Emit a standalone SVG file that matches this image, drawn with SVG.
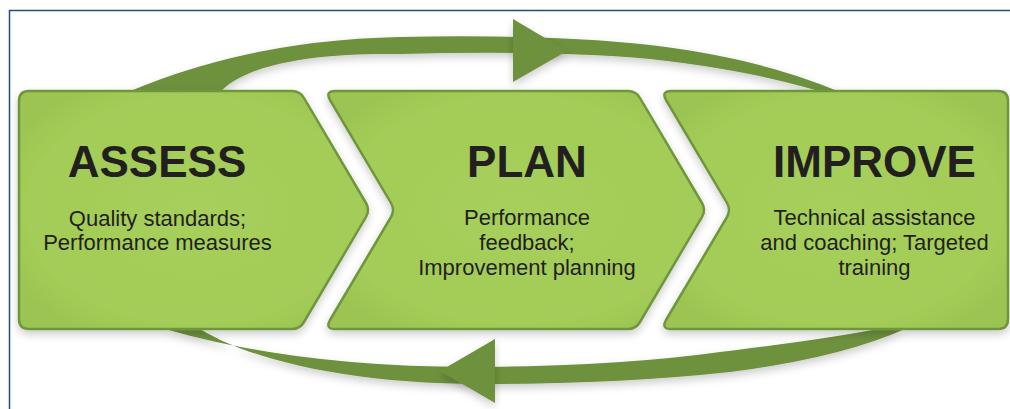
<svg xmlns="http://www.w3.org/2000/svg" width="1010" height="409" viewBox="0 0 1010 409">
  <style>
    .chev { fill: url(#chevFill); stroke: #6e963c; stroke-width: 2.5; stroke-linejoin: round; filter: url(#shadow); }
    .band { fill: #6d913c; filter: url(#shadow); }
    .title { font-family: "Liberation Sans", Arial, sans-serif; font-weight: bold; font-size: 44px; fill: #231f20; text-anchor: middle; }
    .sub { font-family: "Liberation Sans", Arial, sans-serif; font-size: 22px; fill: #231f20; text-anchor: middle; }
    .frame { fill: none; stroke: #1f4e7a; stroke-width: 1.5; }
  </style>
  <defs>
    <radialGradient id="chevFill" cx="50%" cy="50%" r="60%">
      <stop offset="0" stop-color="#a6cf5b"/>
      <stop offset="0.8" stop-color="#a3cc58"/>
      <stop offset="1" stop-color="#9cc452"/>
    </radialGradient>
    <filter id="shadow" x="-10%" y="-20%" width="120%" height="150%">
      <feDropShadow dx="0" dy="4" stdDeviation="4" flood-color="#000" flood-opacity="0.2"/>
    </filter>
  </defs>
  <rect width="1010" height="409" fill="#ffffff"/>
  <path class="frame" d="M 9.5 409 L 9.5 10.5 L 1010 10.5"/>

  <g id="connectors">
    <path class="band" d="M 128 92 Q 250 40 400 37 Q 550 34 650 45 Q 760 58 840 92 L 822 92 Q 750 70 650 59 Q 550 50 400 54 C 330 53 250 60 220 92 Z"/>
    <polygon class="band" points="513,19 567,51 513,82"/>
    <path class="band" d="M 165 329 Q 300 368 480 367 Q 620 366 720 352 Q 820 340 878 329 L 905 329 Q 840 358 730 372 Q 620 384 480 384 C 350 384 250 360 200 329 Z"/>
    <polygon class="band" points="495,339 440,371 495,403"/>
  </g>

  <g id="node-assess">
    <path class="chev" d="M 29 91 L 292 91 Q 300 91 304 98 L 366 203 Q 370 210 366 217 L 304 322 Q 300 329 292 329 L 29 329 Q 19 329 19 319 L 19 101 Q 19 91 29 91 Z"/>
    <text class="title" x="157" y="177">ASSESS</text>
    <text class="sub" x="157.5" y="226">Quality standards;</text>
    <text class="sub" x="157.5" y="250">Performance measures</text>
  </g>

  <g id="node-plan">
    <path class="chev" d="M 335 91 L 628 91 Q 636 91 640 98 L 702 203 Q 706 210 702 217 L 640 322 Q 636 329 628 329 L 335 329 Q 325 329 330 320 L 391 217 Q 395 210 391 203 L 330 100 Q 325 91 335 91 Z"/>
    <text class="title" x="527" y="177">PLAN</text>
    <text class="sub" x="527" y="225">Performance</text>
    <text class="sub" x="527" y="250">feedback;</text>
    <text class="sub" x="527" y="275">Improvement planning</text>
  </g>

  <g id="node-improve">
    <path class="chev" d="M 671 91 L 998 91 Q 1008 91 1008 101 L 1008 319 Q 1008 329 998 329 L 671 329 Q 661 329 666 320 L 727 217 Q 731 210 727 203 L 666 100 Q 661 91 671 91 Z"/>
    <text class="title" x="874.5" y="177">IMPROVE</text>
    <text class="sub" x="874.5" y="225">Technical assistance</text>
    <text class="sub" x="874.5" y="250">and coaching; Targeted</text>
    <text class="sub" x="874.5" y="275">training</text>
  </g>
</svg>
